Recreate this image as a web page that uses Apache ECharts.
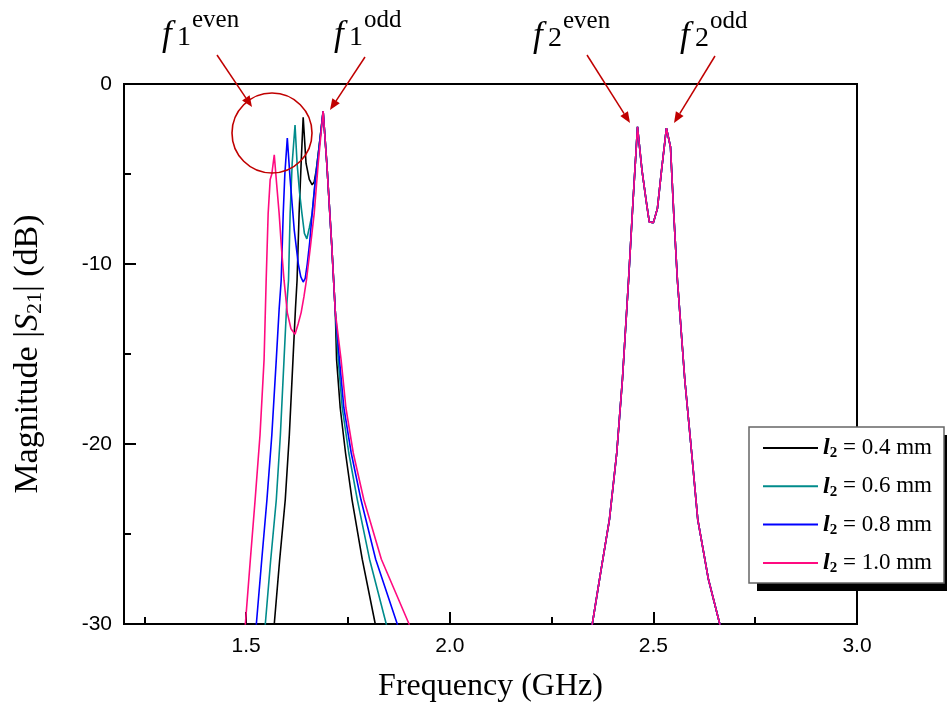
<!DOCTYPE html>
<html><head><meta charset="utf-8">
<script src="https://cdn.jsdelivr.net/npm/echarts@6/dist/echarts.min.js"></script>
<style>html,body{margin:0;padding:0;background:#fff}#c{width:947px;height:716px}</style>
</head><body><div id="c"></div>
<script>
// ---- data ----
const seriesLabels = ['0.4', '0.6', '0.8', '1.0'];
const seriesColors = ['#000000', '#008b8b', '#0000ff', '#ff0a80'];
const xMajorTicks = [1.5, 2.0, 2.5];
const xMinorTicks = [1.25, 1.75, 2.25, 2.75];
const xLabelValues = [1.5, 2.0, 2.5, 3.0];
const yLabelValues = [0, -10, -20, -30];

// first passband [GHz, dB]
const band1_04 = [[1.560,-34],[1.569,-30],[1.582,-26.5],[1.596,-23.1],[1.606,-19.5],[1.615,-15.3],[1.621,-12.5],[1.625,-10.9],[1.630,-7.2],[1.635,-4.4],[1.640,-1.85],[1.647,-4.4],[1.655,-5.3],[1.662,-5.6],[1.667,-5.45],[1.672,-4.8],[1.679,-3.5],[1.689,-1.5],[1.698,-4.4],[1.710,-8.9],[1.719,-12.7],[1.722,-15.3],[1.731,-18],[1.744,-20.5],[1.760,-23.1],[1.785,-26.4],[1.817,-30],[1.840,-33]];
const band1_06 = [[1.540,-34],[1.547,-30],[1.560,-26.5],[1.574,-23.1],[1.584,-19.5],[1.593,-15.3],[1.599,-12.5],[1.604,-10.9],[1.608,-7.2],[1.613,-4.4],[1.620,-2.28],[1.625,-4.4],[1.631,-6.0],[1.637,-7.2],[1.643,-8.3],[1.649,-8.6],[1.655,-8.0],[1.662,-7.2],[1.670,-5.3],[1.679,-3.5],[1.689,-1.5],[1.698,-4.4],[1.710,-8.9],[1.719,-12.7],[1.726,-15.3],[1.736,-18],[1.752,-20.5],[1.773,-23.1],[1.803,-26.4],[1.844,-30],[1.870,-33]];
const band1_08 = [[1.518,-34],[1.525,-30],[1.538,-26.5],[1.551,-23.1],[1.563,-19.5],[1.574,-15.3],[1.581,-12.5],[1.586,-10.9],[1.591,-7.2],[1.595,-5.0],[1.601,-3.0],[1.608,-5.3],[1.618,-8.1],[1.628,-10.0],[1.634,-10.7],[1.640,-11.0],[1.645,-10.8],[1.650,-10.0],[1.656,-8.8],[1.662,-7.2],[1.670,-5.3],[1.677,-4.0],[1.689,-1.5],[1.698,-4.4],[1.710,-8.9],[1.719,-12.7],[1.729,-15.3],[1.740,-18],[1.758,-20.5],[1.782,-23.1],[1.818,-26.4],[1.871,-30],[1.900,-33]];
const band1_10 = [[1.492,-34],[1.498,-30],[1.510,-26.5],[1.522,-23.1],[1.534,-19.5],[1.544,-15.3],[1.549,-11.0],[1.554,-7.2],[1.559,-5.3],[1.563,-5.0],[1.569,-3.94],[1.575,-5.6],[1.581,-7.2],[1.587,-9.2],[1.593,-10.9],[1.601,-12.7],[1.610,-13.6],[1.620,-13.9],[1.628,-13.3],[1.635,-12.7],[1.642,-11.8],[1.648,-10.9],[1.658,-9.0],[1.667,-7.2],[1.677,-4.4],[1.689,-1.5],[1.698,-4.4],[1.710,-8.9],[1.719,-12.7],[1.733,-15.3],[1.745,-18],[1.763,-20.5],[1.789,-23.1],[1.832,-26.4],[1.900,-30],[1.930,-33]];
// second passband (curves coincide)
const band2 = [[2.330,-34],[2.350,-30],[2.370,-27.2],[2.392,-24.2],[2.410,-20.5],[2.424,-16.4],[2.439,-10.9],[2.450,-6.5],[2.461,-2.38],[2.472,-4.8],[2.483,-6.6],[2.490,-7.67],[2.500,-7.7],[2.510,-6.9],[2.520,-4.8],[2.532,-2.45],[2.542,-3.5],[2.550,-7.2],[2.559,-10.9],[2.577,-16.4],[2.594,-20.5],[2.609,-24.2],[2.635,-27.5],[2.663,-30],[2.680,-33]];
const band1All = [band1_04, band1_06, band1_08, band1_10];

// ---- chart ----
const chart = echarts.init(document.getElementById('c'), null, {renderer: 'canvas'});
const serif = "'Liberation Serif','Times New Roman',serif";
const sans = "'Liberation Sans',Arial,sans-serif";
const red = '#c00000';

const names = seriesLabels.map(v => 'l2 = ' + v + ' mm');
const series = [];
names.forEach((n, i) => {
  const common = {name: n, type: 'line', symbol: 'none', showSymbol: false, clip: true,
    lineStyle: {color: seriesColors[i], width: 1.6}, itemStyle: {color: seriesColors[i]}, z: 3 + i, animation: false};
  series.push(Object.assign({}, common, {data: band1All[i]}));
  series.push(Object.assign({}, common, {data: band2}));
});

// annotations (layout only)
const annos = [
  {sub: '1', sup: 'even', x: 162, base: 46},
  {sub: '1', sup: 'odd', x: 334, base: 46},
  {sub: '2', sup: 'even', x: 533, base: 47},
  {sub: '2', sup: 'odd', x: 680, base: 47}
];
const arrows = [
  [[217, 55], [252, 107]],
  [[365, 57], [330, 110]],
  [[587, 55], [630, 123]],
  [[715, 56], [674, 123]]
];
const graphics = [];
annos.forEach(a => {
  graphics.push({type: 'text', z: 50, style: {text: 'f', x: a.x, y: a.base - 10, font: 'italic 35px ' + serif, fill: '#000', verticalAlign: 'middle'}});
  graphics.push({type: 'text', z: 50, style: {text: a.sub, x: a.x + 15, y: a.base - 8.5, font: '28px ' + serif, fill: '#000', verticalAlign: 'middle'}});
  graphics.push({type: 'text', z: 50, style: {text: a.sup, x: a.x + 30, y: a.base - 26, font: '25px ' + serif, fill: '#000', verticalAlign: 'middle'}});
});
arrows.forEach(([p0, p1]) => {
  const dx = p1[0] - p0[0], dy = p1[1] - p0[1];
  const L = Math.hypot(dx, dy), ux = dx / L, uy = dy / L;
  const hl = 11, hw = 4.5;
  const bx = p1[0] - ux * hl, by = p1[1] - uy * hl;
  graphics.push({type: 'line', z: 50, shape: {x1: p0[0], y1: p0[1], x2: bx, y2: by}, style: {stroke: red, lineWidth: 1.5}});
  graphics.push({type: 'polygon', z: 50, shape: {points: [[p1[0], p1[1]], [bx - uy * hw, by + ux * hw], [bx + uy * hw, by - ux * hw]]}, style: {fill: red}});
});
graphics.push({type: 'circle', z: 50, shape: {cx: 272, cy: 133, r: 40}, style: {fill: 'none', stroke: red, lineWidth: 1.6}});
// legend frame with shadow
graphics.push({type: 'rect', z: 40, shape: {x: 757, y: 435, width: 195, height: 156}, style: {fill: '#000'}});
graphics.push({type: 'rect', z: 41, shape: {x: 749, y: 427, width: 195, height: 156}, style: {fill: '#fff', stroke: '#666', lineWidth: 1.5}});

const option = {
  backgroundColor: '#fff',
  animation: false,
  grid: {left: 124, right: 90, top: 84, bottom: 92, show: true, borderColor: '#000', borderWidth: 2, backgroundColor: 'transparent'},
  legend: {
    z: 60, orient: 'vertical', left: 750, top: 427, padding: [8, 0, 0, 13], itemGap: 12.3,
    itemWidth: 55, itemHeight: 2, icon: 'rect', selectedMode: false,
    data: names.map((n, i) => ({name: n, itemStyle: {color: seriesColors[i]}})),
    formatter: n => '{l|l}{s|2}{t|' + n.slice(2) + '}',
    textStyle: {
      color: '#000', fontFamily: serif, fontSize: 23,
      rich: {
        l: {fontFamily: serif, fontStyle: 'italic', fontWeight: 'bold', fontSize: 24, lineHeight: 26, color: '#000'},
        s: {fontFamily: serif, fontWeight: 'bold', fontSize: 15, lineHeight: 26, padding: [11, 0, 0, 0], color: '#000'},
        t: {fontFamily: serif, fontSize: 23, lineHeight: 26, color: '#000'}
      }
    }
  },
  xAxis: [{
    type: 'value', min: 1.2, max: 3.0, position: 'bottom',
    name: 'Frequency (GHz)', nameLocation: 'middle', nameGap: 47,
    nameTextStyle: {fontFamily: serif, fontSize: 32, color: '#000'},
    axisLine: {show: true, onZero: false, lineStyle: {color: '#000', width: 2}},
    axisTick: {show: true, inside: true, length: 12, customValues: xMajorTicks, lineStyle: {color: '#000', width: 2}},
    axisLabel: {show: true, customValues: xLabelValues, formatter: v => v.toFixed(1), fontFamily: sans, fontSize: 21, color: '#000', margin: 12},
    splitLine: {show: false}
  }, {
    type: 'value', min: 1.2, max: 3.0, position: 'bottom',
    axisLine: {show: false, onZero: false},
    axisTick: {show: true, inside: true, length: 7, customValues: xMinorTicks, lineStyle: {color: '#000', width: 2}},
    axisLabel: {show: false}, splitLine: {show: false}
  }],
  yAxis: {
    type: 'value', min: -30, max: 0, interval: 10,
    name: 'Magnitude |{i|S}{sub|21}| (dB)', nameLocation: 'middle', nameGap: 78,
    nameTextStyle: {fontFamily: serif, fontSize: 34, color: '#000',
      rich: {i: {fontFamily: serif, fontStyle: 'italic', fontSize: 34, color: '#000'},
             sub: {fontFamily: serif, fontSize: 22, color: '#000', padding: [14, 0, 0, 0]}}},
    axisLine: {show: true, onZero: false, lineStyle: {color: '#000', width: 2}},
    axisTick: {show: true, inside: true, length: 12, lineStyle: {color: '#000', width: 2}},
    minorTick: {show: true, splitNumber: 2, length: 7, lineStyle: {color: '#000', width: 2}},
    axisLabel: {fontFamily: sans, fontSize: 21, color: '#000', margin: 12},
    splitLine: {show: false}, minorSplitLine: {show: false}
  },
  series: series,
  graphic: graphics
};
chart.setOption(option);
</script>
</body></html>
